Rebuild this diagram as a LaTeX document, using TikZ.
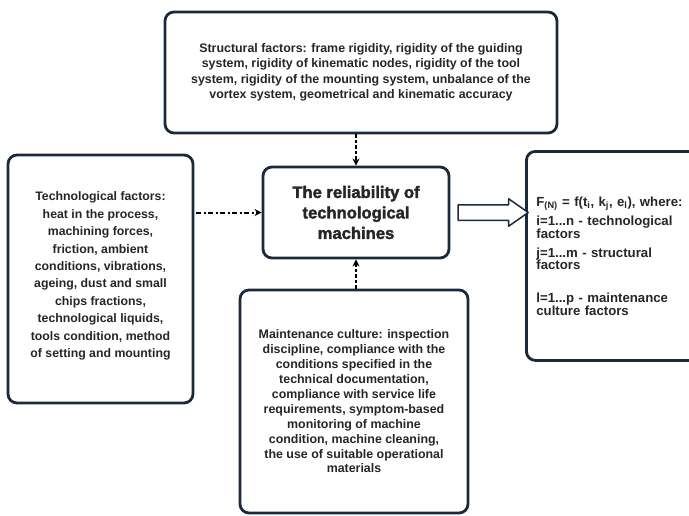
\documentclass[tikz,border=0pt]{standalone}
\usepackage{fontspec}
\setmainfont{Liberation Sans}
\newfontfamily\titlefont[FakeBold=2]{Liberation Sans Bold}
\usetikzlibrary{arrows.meta,shapes.arrows}
\definecolor{boxnavy}{RGB}{26,42,60}
\definecolor{textgray}{RGB}{38,38,42}
\begin{document}
\begin{tikzpicture}[x=1pt,y=-1pt,line join=round,
    factorbox/.style={draw=boxnavy,line width=2.8pt,rounded corners=9pt,fill=white,
      inner sep=0pt,text=textgray,font=\bfseries,align=center},
    dasharrow/.style={line width=1.8pt,dash pattern=on 3.5pt off 2pt,black,
      -{Stealth[length=7pt,width=7pt,inset=2pt]}},
    dotarrow/.style={line width=2pt,dash pattern=on 5pt off 2.5pt on 2pt off 2.5pt,black,
      -{Stealth[length=7pt,width=7pt,inset=2pt]}},
    bigarrow/.style={single arrow,draw=boxnavy,line width=1.5pt,fill=white,inner xsep=0pt,
      inner ysep=7pt,single arrow head extend=6pt,single arrow tip angle=70,
      minimum height=70pt}]
  \useasboundingbox (0,0) rectangle (689,515);
  \clip (0,0) rectangle (689,515);
  \node[factorbox,minimum width=392pt,minimum height=121pt,font=\bfseries\fontsize{12.4}{15.5}\selectfont]
    (struct) at (361,72.5) {Structural factors: frame rigidity, rigidity of the guiding\\
    system, rigidity of kinematic nodes, rigidity of the tool\\
    system, rigidity of the mounting system, unbalance of the\\
    vortex system, geometrical and kinematic accuracy};
  \node[factorbox,minimum width=185pt,minimum height=248pt,font=\bfseries\fontsize{12.3}{17.4}\selectfont]
    (techn) at (100.5,279) {Technological factors:\\ heat in the process,\\ machining forces,\\
    friction, ambient\\ conditions, vibrations,\\ ageing, dust and small\\ chips fractions,\\
    technological liquids,\\ tools condition, method\\ of setting and mounting\\[-9pt]};
  \node[factorbox,minimum width=186pt,minimum height=91pt,font=\titlefont\fontsize{16.6}{20.5}\selectfont]
    (relia) at (356,212.5) {The reliability of\\ technological\\ machines};
  \node[factorbox,minimum width=228pt,minimum height=223pt,font=\bfseries\fontsize{12.4}{14.9}\selectfont]
    (maint) at (354,401.5) {Maintenance culture: inspection\\ discipline, compliance with the\\
    conditions specified in the\\ technical documentation,\\ compliance with service life\\
    requirements, symptom-based\\ monitoring of machine\\ condition, machine cleaning,\\
    the use of suitable operational\\ materials};
  \node[factorbox,anchor=north west,minimum width=180pt,minimum height=209pt,align=left,
    inner xsep=10pt,text width=160pt,font=\bfseries\fontsize{13.2}{12.5}\selectfont]
    (formula) at (525,150) {F\textsubscript{(N)} = f(t\textsubscript{i}, k\textsubscript{j}, e\textsubscript{l}), where:\\[4.5pt]
    i=1...n - technological\\ factors\\[6.5pt]
    j=1...m - structural\\ factors\\[20.5pt]
    l=1...p - maintenance\\ culture factors};
  \draw[dasharrow] (relia.north |- struct.south) -- (relia.north);
  \draw[dasharrow] (relia.south |- maint.north) -- (relia.south);
  \draw[dotarrow] (techn.east |- relia.west) ++(2pt,0) -- (relia.west);
  \path (relia.east) -- (relia.east -| formula.west) node[bigarrow,midway]{};
\end{tikzpicture}
\end{document}
